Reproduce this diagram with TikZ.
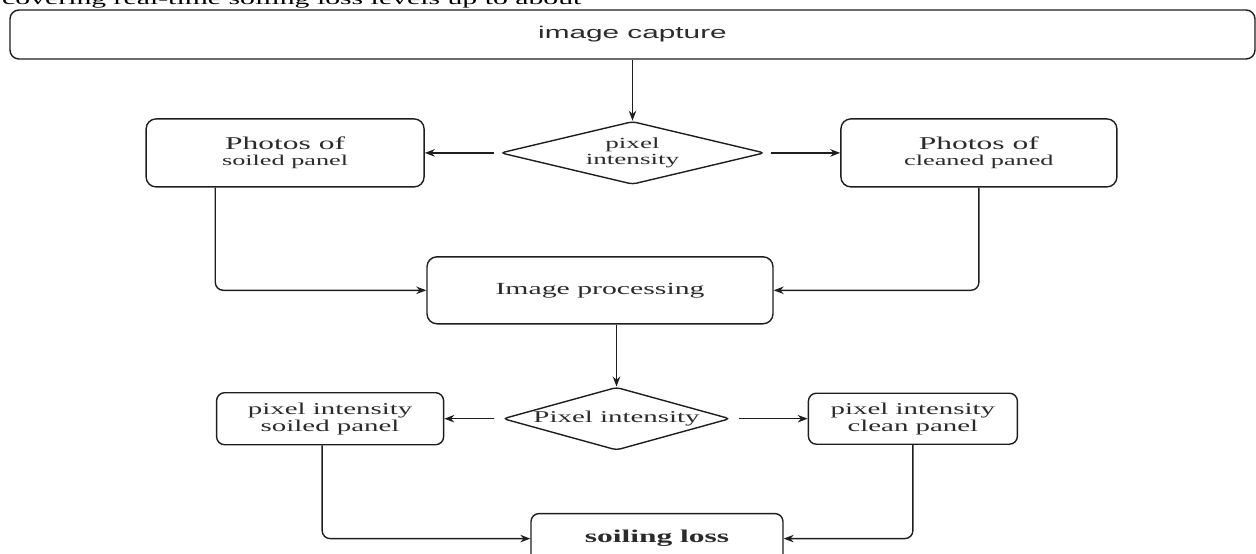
\documentclass[tikz,border=0pt]{standalone}
\usepackage{fontspec}
\setmainfont{Liberation Serif}[FakeStretch=1.75]
\setsansfont{Liberation Sans}[FakeStretch=1.75]
\usepackage{tikz}
\usetikzlibrary{arrows.meta,positioning,shapes.geometric,calc}
\definecolor{flowline}{HTML}{1E1E1E}
\definecolor{flowtext}{HTML}{2B2B2B}

\begin{document}
\begin{tikzpicture}[
  x=1pt, y=1pt,
  stepbox/.style={
    draw=flowline, rounded corners=10pt, line width=1.4pt, fill=white,
    text=flowtext, align=center, inner sep=0pt
  },
  choice/.style={
    diamond, draw=flowline, line width=1.4pt, aspect=4, rounded corners=4pt, fill=white,
    text=flowtext, align=center, inner sep=0pt
  },
  arrow/.style={-{Stealth[length=10pt,width=7.5pt]}, line width=1.4pt, draw=flowline},
  link/.style={arrow, rounded corners=8pt}
]
  \useasboundingbox (0,0) rectangle (1256,-554);
  \clip (0,0) rectangle (1256,-554);

  % running text of the page, cut at the top
  \node[anchor=base west, inner sep=0pt, text=black, font=\fontsize{17}{19}\selectfont] (pagetext) at (2,-4.5)
    {covering real-time soiling loss levels up to about};

  % Row 1: capture
  \node[stepbox, rounded corners=9pt, minimum width=1245pt, minimum height=49pt,
        font=\sffamily\fontsize{17}{20}\selectfont] (capture) at (632.5,-34.5) {image capture};

  % Row 2: first split
  \node[choice, below=61pt of capture, minimum width=264pt, minimum height=63pt,
        font=\fontsize{15.5}{16}\selectfont] (pxtop) {pixel\\intensity};

  \node[stepbox, left=75pt of pxtop, minimum width=278pt, minimum height=68pt,
        font=\fontsize{15}{16}\selectfont] (soiled)
    {{\fontsize{18}{16}\selectfont Photos of}\\soiled panel};

  \node[stepbox, right=75pt of pxtop, minimum width=276pt, minimum height=68pt,
        font=\fontsize{15}{16}\selectfont] (cleaned)
    {{\fontsize{18}{16}\selectfont Photos of}\\cleaned paned};

  % Row 3: processing
  \node[stepbox, below=71pt of pxtop, xshift=-32.5pt, minimum width=346pt, minimum height=67pt,
        font=\fontsize{17}{20}\selectfont] (process) {Image processing};

  % Row 4: second split
  \node[choice, below=62pt of process, xshift=16.5pt, minimum width=227pt, minimum height=63pt,
        font=\fontsize{16.5}{18}\selectfont] (pxlow) {Pixel intensity};

  \node[stepbox, rounded corners=8pt, left=58pt of pxlow, minimum width=227pt, minimum height=52pt,
        font=\fontsize{16.5}{17}\selectfont] (soiledpx) {pixel intensity\\soiled panel};

  \node[stepbox, rounded corners=8pt, right=77pt of pxlow, minimum width=209pt, minimum height=51pt,
        font=\fontsize{16.5}{17}\selectfont] (cleanpx) {pixel intensity\\clean panel};

  % Row 5: result
  \node[stepbox, rounded corners=8pt, below=62pt of pxlow, xshift=40.5pt, minimum width=252pt,
        minimum height=50pt, font=\bfseries\fontsize{18}{20}\selectfont] (loss) {soiling loss};

  % connectors
  \draw[arrow] (capture.south) -- (pxtop.north);
  \draw[arrow, shorten <=6pt] (pxtop.west) -- (soiled.east);
  \draw[arrow, shorten <=6pt] (pxtop.east) -- (cleaned.west);
  \draw[link] ($(soiled.south west)!0.25!(soiled.south east)$) |- (process.west);
  \draw[link] (cleaned.south) |- (process.east);
  \draw[arrow] (process.south -| pxlow.north) -- (pxlow.north);
  \draw[arrow, shorten <=8pt] (pxlow.west) -- (soiledpx.east);
  \draw[arrow, shorten <=8pt] (pxlow.east) -- (cleanpx.west);
  \draw[link] ([xshift=-8pt]soiledpx.south) |- (loss.west);
  \draw[link] (cleanpx.south) |- (loss.east);
\end{tikzpicture}
\end{document}
